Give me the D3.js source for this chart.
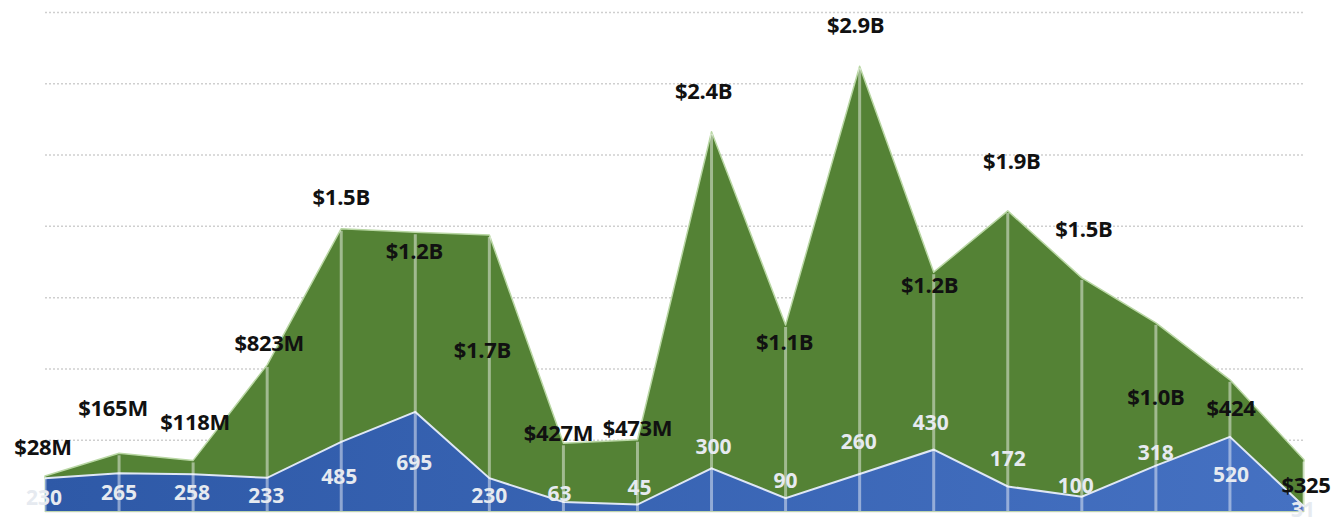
<!DOCTYPE html>
<html>
<head>
<meta charset="utf-8">
<script src="https://cdn.jsdelivr.net/npm/d3@7"></script>
<style>
  body { margin: 0; background: #fff; }
  svg { display: block; }
</style>
</head>
<body>
<script>
// canvas
const width = 1332;
const height = 519;

// data
const categories = d3.range(18);
const totalValues = [245, 405, 355, 1025, 1980, 1955, 1935, 475, 500, 2660, 1305, 3120, 1675, 2105, 1635, 1320, 920, 360];
const countValues = [230, 265, 258, 233, 485, 695, 230, 63, 45, 300, 90, 260, 430, 172, 100, 318, 520, 31];
const totalLabels = ['$28M', '$165M', '$118M', '$823M', '$1.5B', '$1.2B', '$1.7B', '$427M', '$473M',
                     '$2.4B', '$1.1B', '$2.9B', '$1.2B', '$1.9B', '$1.5B', '$1.0B', '$424', '$325'];
const yTicks = [0, 500, 1000, 1500, 2000, 2500, 3000, 3500];

// label offsets (px) from the point, like excel's dragged labels
const totalLabelOffset = [[-2, -29], [-6, -45], [2, -38], [2, -22], [0, -31], [-1, 19], [-7, 115], [-5, -10], [0, -11],
                          [-8, -40], [-1, 17], [-4, -41], [-4, 13], [4, -50], [2, -49], [0, 74], [1, 28], [2, 26]];
const countLabelOffset = [[-1, 19], [0, 19], [-1, 18], [-1, 18], [-2, 35], [-1, 51], [0, 17], [-4, -8], [2, -17],
                          [2, -22], [0, -18], [-1, -32], [-3, -27], [0, -28], [-6, -11], [0, -13], [1, 38], [-1, 3]];

const padding = {left: 45, right: 28, top: 12, bottom: 8};

const x = d3.scalePoint()
    .domain(categories)
    .range([padding.left, width - padding.right]);

const y = d3.scaleLinear()
    .domain([0, 3500])
    .range([height - padding.bottom, padding.top]);

const svg = d3.select('body')
    .append('svg')
    .attr('width', width)
    .attr('height', height);

// blue gets a bit lighter to the right
const grad = svg.append('defs').append('linearGradient')
    .attr('id', 'blueFill')
    .attr('x1', '0%').attr('x2', '100%')
    .attr('y1', '0%').attr('y2', '0%');
grad.append('stop').attr('offset', '0%').attr('stop-color', '#2e59a7');
grad.append('stop').attr('offset', '100%').attr('stop-color', '#4571c2');

// gridlines
const grid = svg.append('g')
    .attr('transform', 'translate(' + padding.left + ',0)')
    .call(d3.axisLeft(y)
      .tickValues(yTicks)
      .tickSize(-(width - padding.left - padding.right))
      .tickFormat(''));
grid.select('.domain').remove();
grid.selectAll('.tick line')
    .attr('stroke', '#cfcfcf')
    .attr('stroke-width', 1.5)
    .attr('stroke-dasharray', d => d === 0 ? null : '2,2');

// green area (total)
const area = d3.area()
    .x((d, i) => x(i))
    .y0(y(0))
    .y1(d => y(d));

svg.append('path')
    .datum(totalValues)
    .attr('d', area)
    .attr('fill', '#548235')
    .attr('stroke', '#b9d7a4')
    .attr('stroke-width', 1.5)
    .attr('stroke-linejoin', 'round');

// blue area (count)
svg.append('path')
    .datum(countValues)
    .attr('d', area)
    .attr('fill', 'url(#blueFill)');

svg.append('path')
    .datum(countValues)
    .attr('d', d3.line().x((d, i) => x(i)).y(d => y(d)))
    .attr('fill', 'none')
    .attr('stroke', '#dfe7f5')
    .attr('stroke-width', 2);

// vertical drop lines
svg.selectAll('.drop')
    .data(totalValues)
    .enter()
    .append('line')
    .attr('class', 'drop')
    .attr('x1', (d, i) => x(i))
    .attr('x2', (d, i) => x(i))
    .attr('y1', d => y(d) + 2)
    .attr('y2', y(0))
    .attr('stroke', '#ffffff')
    .attr('stroke-opacity', 0.45)
    .attr('stroke-width', 3);

// total labels
svg.selectAll('.tlabel')
    .data(totalValues)
    .enter()
    .append('text')
    .attr('class', 'tlabel')
    .attr('x', (d, i) => x(i) + totalLabelOffset[i][0])
    .attr('y', (d, i) => y(d) + totalLabelOffset[i][1])
    .attr('dy', '0.35em')
    .attr('text-anchor', 'middle')
    .attr('font-family', 'Open Sans, sans-serif')
    .attr('font-weight', 700)
    .attr('font-size', 22)
    .attr('letter-spacing', -0.3)
    .attr('fill', '#111')
    .text((d, i) => totalLabels[i]);

// count labels
svg.selectAll('.clabel')
    .data(countValues)
    .enter()
    .append('text')
    .attr('class', 'clabel')
    .attr('x', (d, i) => x(i) + countLabelOffset[i][0])
    .attr('y', (d, i) => y(d) + countLabelOffset[i][1])
    .attr('dy', '0.35em')
    .attr('text-anchor', 'middle')
    .attr('font-family', 'Open Sans, sans-serif')
    .attr('font-weight', 700)
    .attr('font-size', 21)
    .attr('fill', '#e6eaf0')
    .text(d => d);
</script>
</body>
</html>
